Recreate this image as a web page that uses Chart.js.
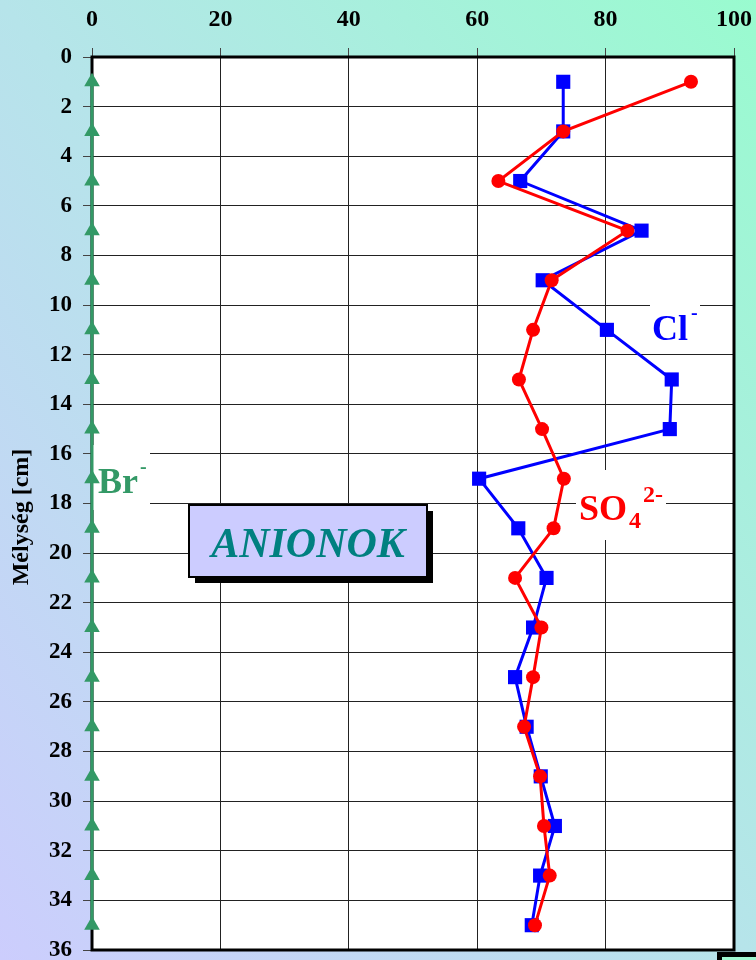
<!DOCTYPE html>
<html><head><meta charset="utf-8">
<script src="https://cdn.jsdelivr.net/npm/chart.js@4"></script>
<style>html,body{margin:0;padding:0;background:#fff}canvas{display:block}</style>
</head><body>
<canvas id="c" width="756" height="960"></canvas>
<script>
// ---- data ----
const depths    = [1,3,5,7,9,11,13,15,17,19,21,23,25,27,29,31,33,35];
const clValues  = [73.4,73.4,66.7,85.6,70.2,80.2,90.3,90.0,60.3,66.4,70.8,68.7,65.9,67.7,69.9,72.1,69.8,68.5];
const so4Values = [93.3,73.4,63.3,83.4,71.6,68.7,66.5,70.1,73.5,71.9,65.9,70.0,68.7,67.3,69.8,70.4,71.3,69.0];
const brValues  = [0,0,0,0,0,0,0,0,0,0,0,0,0,0,0,0,0,0];
const xTicks = [0,20,40,60,80,100];
const yTicks = [0,2,4,6,8,10,12,14,16,18,20,22,24,26,28,30,32,34,36];
const yTitle = 'Mélység [cm]';
const boxTitle = 'ANIONOK';

const SERIF = '"Liberation Serif","Times New Roman",serif';
const toPts = vals => depths.map((d,i)=>({x:vals[i], y:d}));

const deco = {
  id:'deco',
  beforeDraw(chart){
    const {ctx, width, height, chartArea:a} = chart;
    ctx.save();
    const g = ctx.createLinearGradient(0, 960, 933, 225);
    g.addColorStop(0, '#cccdfd');
    g.addColorStop(0.5, '#b6e4ea');
    g.addColorStop(1, '#99fbcf');
    ctx.fillStyle = g;
    ctx.fillRect(0,0,width,height);
    ctx.fillStyle = '#fff';
    ctx.fillRect(a.left, a.top, a.right-a.left, a.bottom-a.top);
    ctx.restore();
  },
  beforeDatasetsDraw(chart){
    const {ctx, chartArea:a} = chart;
    ctx.save();
    // frame
    ctx.strokeStyle = '#000'; ctx.lineWidth = 3;
    ctx.strokeRect(a.left, a.top, a.right-a.left, a.bottom-a.top);
    // bottom-right box fragment
    ctx.fillStyle = '#000'; ctx.fillRect(717, 952, 45, 12);
    ctx.fillStyle = '#a0f8d2'; ctx.fillRect(722, 957, 40, 10);

    // white label backgrounds
    ctx.fillStyle = '#fff';
    ctx.fillRect(650, 296, 50, 50);   // Cl
    ctx.fillRect(576, 470, 90, 70);   // SO4
    ctx.fillRect(93, 445, 57, 65);    // Br

    ctx.textAlign = 'left'; ctx.textBaseline = 'alphabetic';
    // Cl-
    ctx.fillStyle = '#0000ff';
    ctx.font = 'bold 36px ' + SERIF;
    ctx.fillText('Cl', 652, 340);
    ctx.font = 'bold 20px ' + SERIF;
    ctx.fillText('-', 691, 319);
    // SO4 2-
    ctx.fillStyle = '#ff0000';
    ctx.font = 'bold 36px ' + SERIF;
    ctx.fillText('SO', 579, 520);
    ctx.font = 'bold 24px ' + SERIF;
    ctx.fillText('4', 629, 528);
    ctx.fillText('2-', 643, 502);
    // Br-
    ctx.fillStyle = '#339966';
    ctx.font = 'bold 36px ' + SERIF;
    ctx.fillText('Br', 98, 493);
    ctx.font = 'bold 20px ' + SERIF;
    ctx.fillText('-', 140, 473);

    // ANIONOK box
    ctx.fillStyle = '#000';
    ctx.fillRect(195, 511, 238, 72);
    ctx.fillStyle = '#ccccff';
    ctx.fillRect(189, 505, 238, 72);
    ctx.lineWidth = 2; ctx.strokeStyle = '#000';
    ctx.strokeRect(189, 505, 238, 72);
    ctx.fillStyle = '#008080';
    ctx.font = 'italic bold 42px ' + SERIF;
    ctx.textAlign = 'center';
    ctx.fillText(boxTitle, 308, 557);

    // y title
    ctx.translate(22, 517);
    ctx.rotate(-Math.PI/2);
    ctx.fillStyle = '#000';
    ctx.font = 'bold 24px ' + SERIF;
    ctx.textAlign = 'center'; ctx.textBaseline = 'middle';
    ctx.fillText(yTitle, 0, 0);
    ctx.restore();
  }
};

new Chart(document.getElementById('c'), {
  type: 'scatter',
  data: {
    datasets: [
      { label:'Br-', data: toPts(brValues), showLine:true, borderColor:'#339966', backgroundColor:'#339966',
        borderWidth:3, pointStyle:'triangle', pointRadius:9, pointBorderWidth:0, order:0, clip:false, tension:0 },
      { label:'SO4 2-', data: toPts(so4Values), showLine:true, borderColor:'#ff0000', backgroundColor:'#ff0000',
        borderWidth:3, pointStyle:'circle', pointRadius:7, pointBorderWidth:0, order:1, clip:false, tension:0 },
      { label:'Cl-', data: toPts(clValues), showLine:true, borderColor:'#0000ff', backgroundColor:'#0000ff',
        borderWidth:3, pointStyle:'rect', pointRadius:10, pointBorderWidth:0, order:2, clip:false, tension:0 }
    ]
  },
  options: {
    responsive:false, animation:false, devicePixelRatio:1,
    layout:{ padding:{ left:0, top:0, right:22, bottom:10 } },
    plugins:{ legend:{display:false}, tooltip:{enabled:false} },
    scales:{
      x:{ type:'linear', position:'top', min:0, max:100,
          afterBuildTicks: s => { s.ticks = xTicks.map(v=>({value:v})); },
          afterFit: s => { s.height = 57; s.paddingLeft = 0; s.paddingRight = 0; },
          grid:{ color:'#222', lineWidth:1, tickLength:9, tickColor:'#444' },
          border:{ display:false },
          ticks:{ color:'#000', padding:14, maxRotation:0, font:{ family:SERIF, weight:'bold', size:24 } } },
      y:{ type:'linear', reverse:true, min:0, max:36,
          afterBuildTicks: s => { s.ticks = yTicks.map(v=>({value:v})); },
          afterFit: s => { s.width = 92; s.paddingTop = 0; s.paddingBottom = 0; },
          grid:{ color:'#222', lineWidth:1, tickLength:9, tickColor:'#444' },
          border:{ display:false },
          ticks:{ color:'#000', padding:11, font:{ family:SERIF, weight:'bold', size:23 } } }
    }
  },
  plugins:[deco]
});
</script>
</body></html>
